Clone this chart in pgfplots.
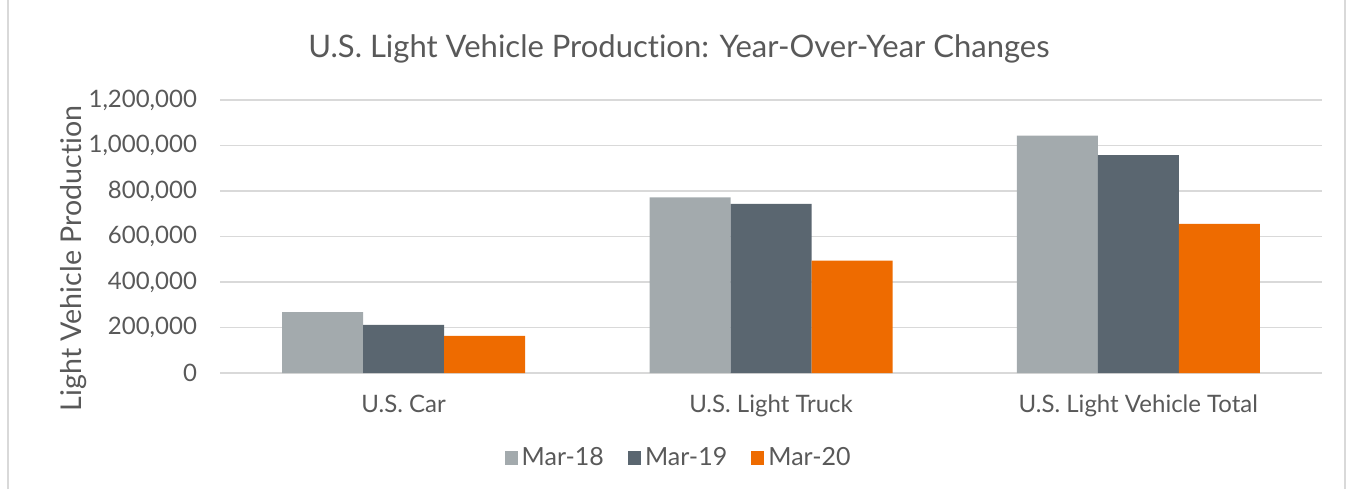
\documentclass[border=0pt]{standalone}
\usepackage{fontspec}
\setmainfont{Lato}[Ligatures=NoCommon]
\usepackage{pgfplots}
\pgfplotsset{compat=1.18}
\definecolor{txt}{HTML}{595959}
\definecolor{gridc}{HTML}{D9D9D9}
\definecolor{m18}{HTML}{A3AAAD}
\definecolor{m19}{HTML}{5A6670}
\definecolor{m20}{HTML}{EE6B00}
\begin{document}
\begin{tikzpicture}
\path[use as bounding box] (0,0) rectangle (676.5pt,244.5pt);
\draw[gridc, line width=0.8pt] (4pt,0) -- (4pt,244.5pt);
\draw[gridc, line width=0.8pt] (672.5pt,0) -- (672.5pt,244.5pt);
\node[txt, font=\fontsize{15.5}{18}\selectfont] at (339.5pt,220pt) {U.S. Light Vehicle Production: Year-Over-Year Changes};
\begin{axis}[
  at={(110pt,58pt)}, anchor=south west,
  scale only axis, width=551pt, height=136.5pt,
  ybar=0pt, bar width=40.5pt,
  xmin=-0.5, xmax=2.5, ymin=0, ymax=1200000,
  xtick={0,1,2},
  xticklabels={U.S. Car, U.S. Light Truck, U.S. Light Vehicle Total},
  ytick={0,200000,400000,600000,800000,1000000,1200000},
  scaled y ticks=false,
  /pgf/number format/assume math mode=true,
  yticklabel style={/pgf/number format/fixed, /pgf/number format/1000 sep={,}},
  ticklabel style={font=\fontsize{12}{14}\selectfont, text=txt},
  yticklabel style={xshift=-8pt},
  xticklabel style={yshift=-7.5pt},
  major tick length=0pt,
  axis line style={draw=none},
  ymajorgrids, grid style={gridc, line width=0.9pt},
  ylabel={Light Vehicle Production},
  ylabel style={at={(rel axis cs:-0.1325,0.42)}, anchor=center, font=\fontsize{14.3}{16}\selectfont, text=txt},
  legend columns=3,
  legend style={at={(rel axis cs:0.417,-0.311)}, anchor=center, draw=none, fill=none,
    font=\fontsize{12.5}{14}\selectfont, text=txt,
    /tikz/every even column/.append style={column sep=10pt}},
  legend image code/.code={\fill (0pt,-3.3pt) rectangle (6.6pt,3.3pt);},
]
\addplot[fill=m18, draw=none] coordinates {(0,268000) (1,772000) (2,1043000)};
\addlegendentry{Mar-18}
\addplot[fill=m19, draw=none] coordinates {(0,212000) (1,743000) (2,958000)};
\addlegendentry{Mar-19}
\addplot[fill=m20, draw=none] coordinates {(0,163000) (1,494000) (2,656000)};
\addlegendentry{Mar-20}
\end{axis}
\end{tikzpicture}
\end{document}
